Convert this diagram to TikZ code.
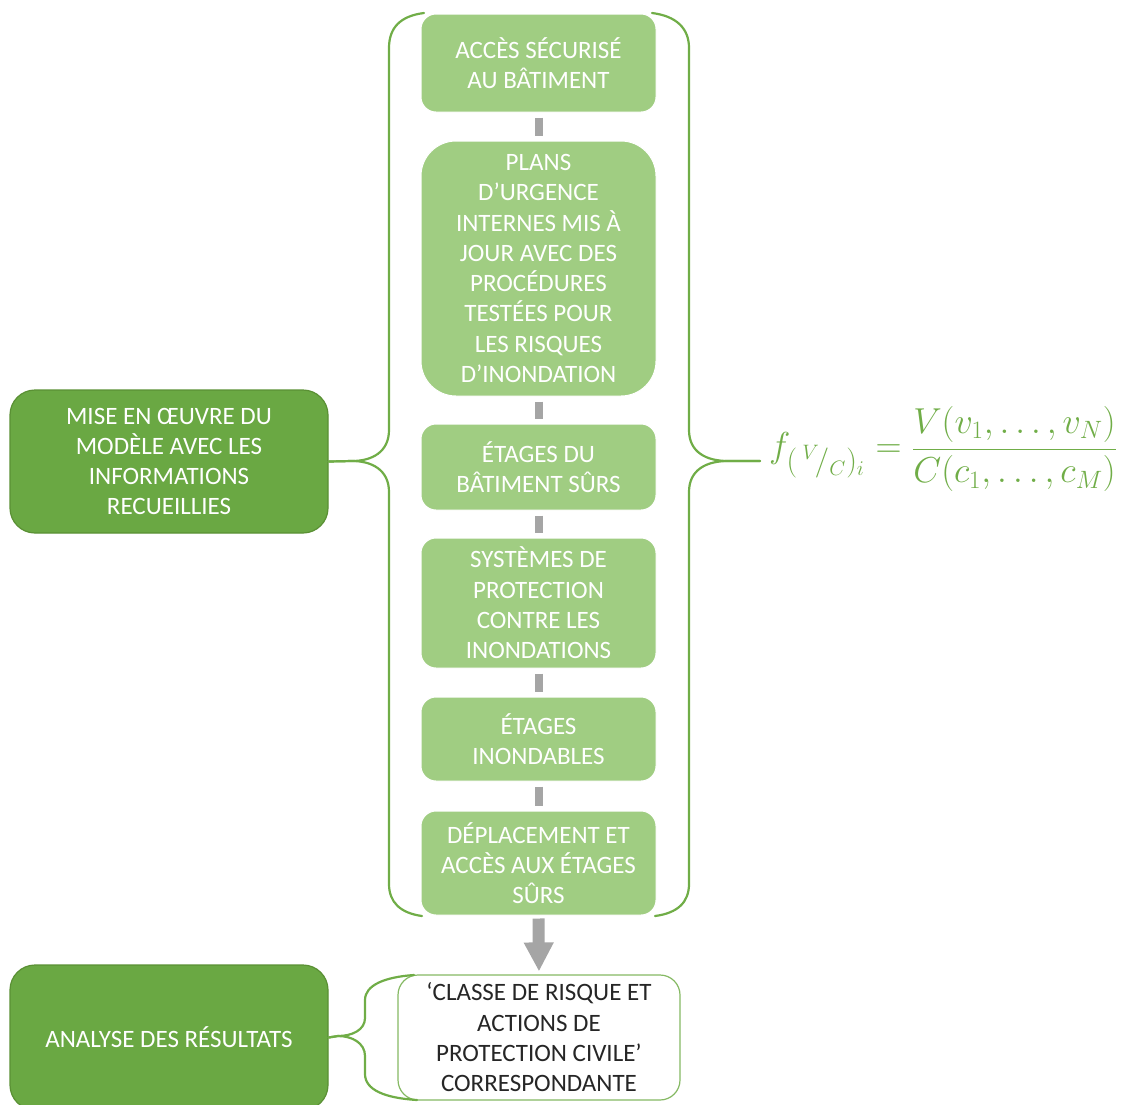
\documentclass[tikz,border=0pt]{standalone}
\usepackage[no-math]{fontspec}
\usepackage{graphicx}
\setmainfont{Carlito}
\usetikzlibrary{arrows.meta}
\definecolor{lightg}{HTML}{A0CD82}
\definecolor{darkg}{HTML}{6AA843}
\definecolor{darkgb}{HTML}{5A9034}
\definecolor{braceg}{HTML}{70AD47}
\definecolor{conng}{HTML}{A5A5A5}
\definecolor{txtd}{HTML}{262626}
\begin{document}
\begin{tikzpicture}[x=1pt,y=-1pt,
  every node/.style={font=\fontsize{25}{30.3}\selectfont, align=center, inner sep=0pt},
  stepbox/.style={fill=lightg, draw=white, line width=1pt, text=white, minimum width=235pt, rounded corners=15pt},
  leftbox/.style={fill=darkg, draw=darkgb, line width=1.2pt, text=white, minimum width=318pt, rounded corners=25pt},
  resbox/.style={fill=white, draw=braceg!85, line width=1.2pt, text=txtd, minimum width=282pt, minimum height=125pt, rounded corners=20pt},
  conn/.style={draw=conng, line width=8pt, shorten <=5pt, shorten >=5pt},
  bigarrow/.style={draw=conng, line width=12pt, shorten <=3pt, shorten >=3pt, -{Triangle[width=28pt,length=29pt]}},
  brace/.style={draw=braceg, line width=2.2pt, line cap=round}
]
\useasboundingbox (0,0) rectangle (1133,1104);

% central column
\node[stepbox, minimum height=98pt] (b1) at (538.5,63) {ACCÈS SÉCURISÉ\\AU BÂTIMENT};
\node[stepbox, minimum height=255pt, rounded corners=35pt] (b2) at (538.5,268.5) {PLANS\\D’URGENCE\\INTERNES MIS À\\JOUR AVEC DES\\PROCÉDURES\\TESTÉES POUR\\LES RISQUES\\D’INONDATION};
\node[stepbox, minimum height=86pt] (b3) at (538.5,467) {ÉTAGES DU\\BÂTIMENT SÛRS};
\node[stepbox, minimum height=130pt] (b4) at (538.5,603) {SYSTÈMES DE\\PROTECTION\\CONTRE LES\\INONDATIONS};
\node[stepbox, minimum height=84pt] (b5) at (538.5,739) {ÉTAGES\\INONDABLES};
\node[stepbox, minimum height=104pt] (b6) at (538.5,863) {DÉPLACEMENT ET\\ACCÈS AUX ÉTAGES\\SÛRS};

% left boxes
\node[leftbox, minimum height=143pt] (l1) at (169,461.5) {MISE EN ŒUVRE DU\\MODÈLE AVEC LES\\INFORMATIONS\\RECUEILLIES};
\node[leftbox, minimum height=145pt] (l2) at (169,1037.5) {ANALYSE DES RÉSULTATS};

% result box
\node[resbox] (res) at (539,1037.5) {‘CLASSE DE RISQUE ET\\ACTIONS DE\\PROTECTION CIVILE’\\CORRESPONDANTE};

% connectors
\draw[conn] (b1.south) -- (b2.north);
\draw[conn] (b2.south) -- (b3.north);
\draw[conn] (b3.south) -- (b4.north);
\draw[conn] (b4.south) -- (b5.north);
\draw[conn] (b5.south) -- (b6.north);
\draw[bigarrow] (b6.south) -- (res.north);

% braces
\coordinate (lt) at (l1.east);
\draw[brace] (424,13) .. controls (400,16) and (389,28) .. (389,48)
  -- (389,430) .. controls (389,452) and (372,461) .. (352,461) -- (lt);
\draw[brace] (lt) -- (352,461) .. controls (372,461) and (389,470) .. (389,492)
  -- (389,884) .. controls (389,902) and (400,913) .. (422,916);

\coordinate (rt) at (760,461);
\draw[brace] (652,13) .. controls (676,16) and (689,28) .. (689,48)
  -- (689,430) .. controls (689,452) and (706,461) .. (728,461) -- (rt);
\draw[brace] (rt) -- (728,461) .. controls (706,461) and (689,470) .. (689,492)
  -- (689,884) .. controls (689,902) and (678,913) .. (655,916);

\coordinate (bt) at (l2.east);
\draw[brace] (414,975) .. controls (385,977) and (365,985) .. (365,1000)
  -- (365,1018) .. controls (365,1030) and (352,1036) .. (338,1036) -- (bt);
\draw[brace] (bt) -- (338,1036) .. controls (352,1036) and (365,1043) .. (365,1056)
  -- (365,1074) .. controls (365,1090) and (385,1098) .. (417,1100);

% formula
\node[text=braceg, anchor=west] (form) at (769,449)
  {\scalebox{1.45}{$f_{\scalebox{1.2}{$\scriptstyle(\,{}^{V}\!/_{C})_{i}$}} = \displaystyle\frac{V(v_1,\ldots,v_N)}{C(c_1,\ldots,c_M)}$}};
\end{tikzpicture}
\end{document}
